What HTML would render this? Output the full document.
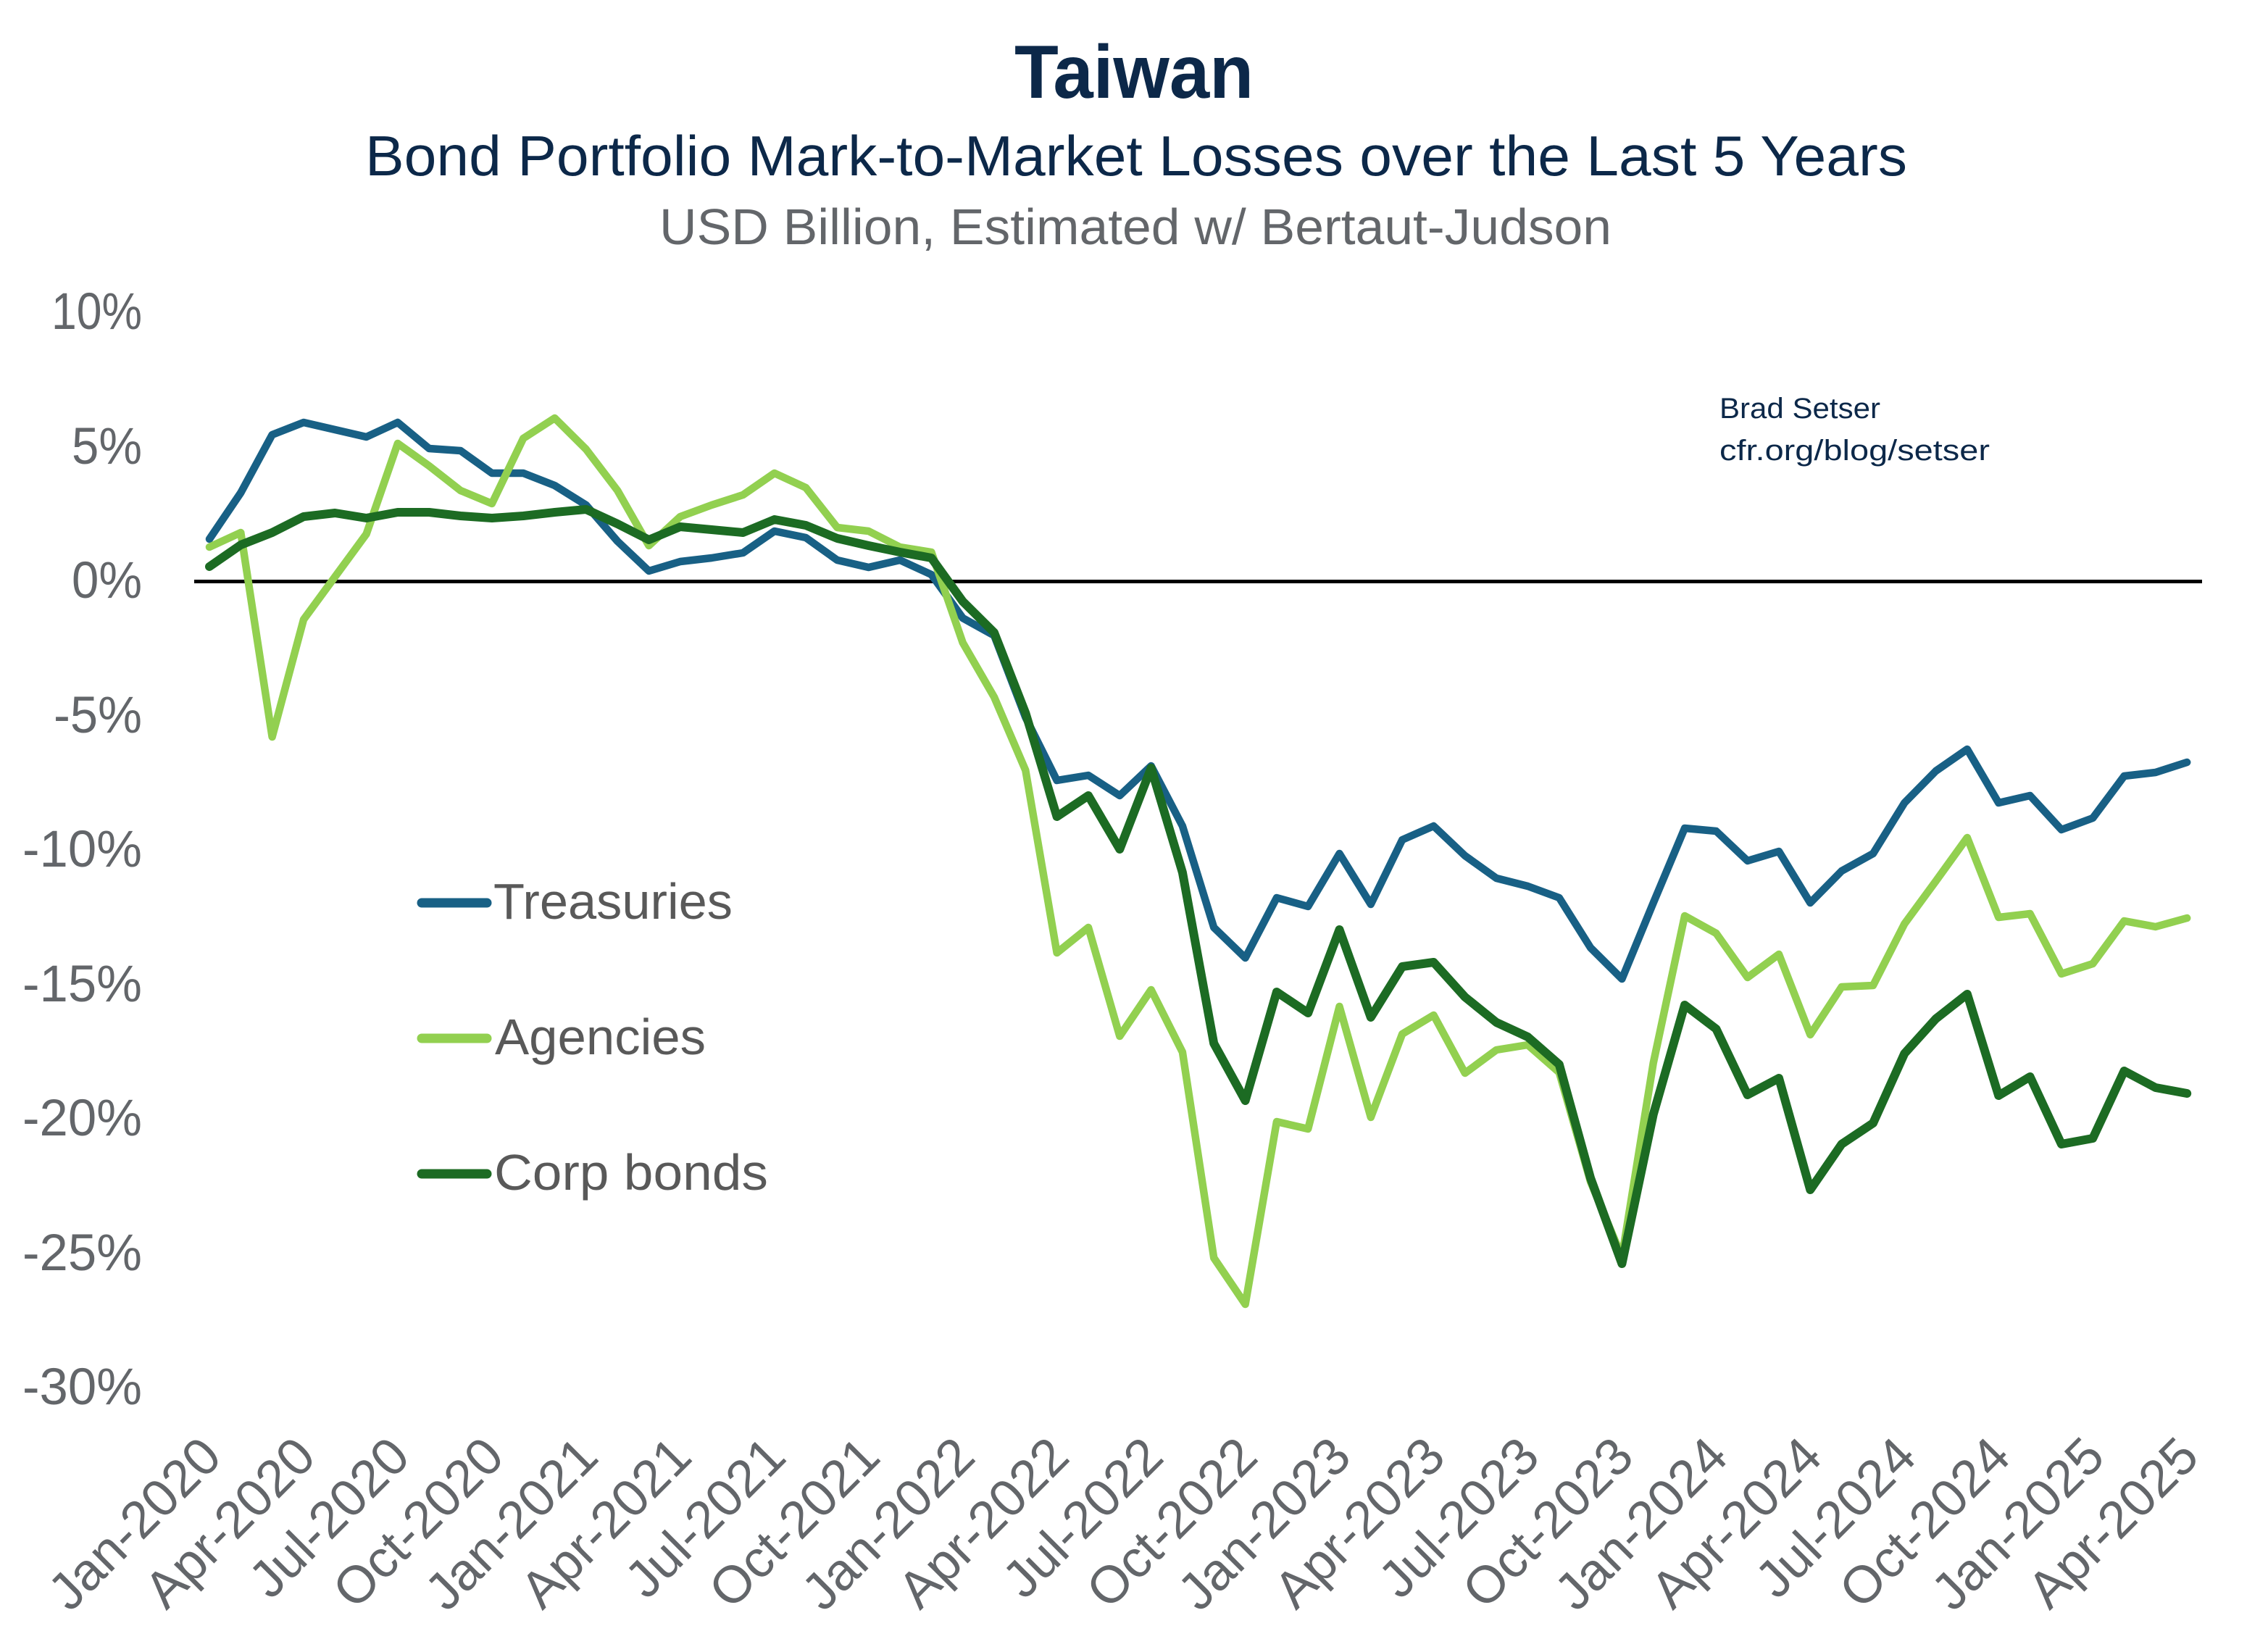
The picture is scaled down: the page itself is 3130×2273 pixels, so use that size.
<!DOCTYPE html>
<html>
<head>
<meta charset="utf-8">
<style>
  html,body{margin:0;padding:0;background:#ffffff;}
  svg{display:block;}
  text{font-family:"Liberation Sans",Arial,sans-serif;}
</style>
</head>
<body>
<svg width="3130" height="2273" viewBox="0 0 3130 2273" xmlns="http://www.w3.org/2000/svg">
  <rect x="0" y="0" width="3130" height="2273" fill="#ffffff"/>

  <!-- Titles -->
  <text x="1565" y="135" text-anchor="middle" font-size="104" font-weight="bold" fill="#0c2849" textLength="330" lengthAdjust="spacingAndGlyphs">Taiwan</text>
  <text x="1568" y="242" text-anchor="middle" font-size="78" fill="#0c2849" textLength="2128" lengthAdjust="spacingAndGlyphs">Bond Portfolio Mark-to-Market Losses over the Last 5 Years</text>
  <text x="1567" y="337" text-anchor="middle" font-size="70" fill="#63666a" textLength="1314" lengthAdjust="spacingAndGlyphs">USD Billion, Estimated w/ Bertaut-Judson</text>

  <!-- Y axis labels -->
  <g font-size="71" fill="#63666a" text-anchor="end">
    <text x="196" y="454" textLength="125" lengthAdjust="spacingAndGlyphs">10%</text>
    <text x="196" y="640" textLength="97" lengthAdjust="spacingAndGlyphs">5%</text>
    <text x="196" y="825" textLength="97" lengthAdjust="spacingAndGlyphs">0%</text>
    <text x="196" y="1011" textLength="122" lengthAdjust="spacingAndGlyphs">-5%</text>
    <text x="196" y="1196" textLength="165" lengthAdjust="spacingAndGlyphs">-10%</text>
    <text x="196" y="1382" textLength="165" lengthAdjust="spacingAndGlyphs">-15%</text>
    <text x="196" y="1567" textLength="165" lengthAdjust="spacingAndGlyphs">-20%</text>
    <text x="196" y="1753" textLength="165" lengthAdjust="spacingAndGlyphs">-25%</text>
    <text x="196" y="1938" textLength="165" lengthAdjust="spacingAndGlyphs">-30%</text>
  </g>

  <!-- Zero line -->
  <line x1="268" y1="802.5" x2="3039" y2="802.5" stroke="#000000" stroke-width="5"/>

  <!-- Treasuries -->
  <polyline fill="none" stroke="#186085" stroke-width="10.5" stroke-linejoin="round" stroke-linecap="round"
    points="289,744 332.3,680 375.6,600 419,583 462.3,593 505.6,603 548.9,583 592.2,619 635.6,622 678.9,653 722.2,653 765.5,670 808.8,697 852.2,747 895.5,788 938.8,775 982.1,770 1025.4,763 1068.8,733 1112.1,742 1155.4,773 1198.7,783 1242,773 1285.4,793 1328.7,853 1372,877 1415.3,990 1458.6,1077 1502,1070 1545.3,1098 1588.6,1057 1631.9,1140 1675.2,1280 1718.6,1322 1761.9,1239 1805.2,1251 1848.5,1178 1891.8,1248 1935.2,1159 1978.5,1140 2021.8,1181 2065.1,1212 2108.4,1223 2151.8,1239 2195.1,1308 2238.4,1351 2281.7,1246 2325,1143 2368.4,1147 2411.7,1188 2455,1175 2498.3,1246 2541.6,1202 2585,1178 2628.3,1108 2671.6,1064 2714.9,1034 2758.2,1108 2801.6,1098 2844.9,1145 2888.2,1129 2931.5,1071 2974.8,1066 3018.2,1052"/>

  <!-- Agencies -->
  <polyline fill="none" stroke="#92d050" stroke-width="10.5" stroke-linejoin="round" stroke-linecap="round"
    points="289,755 332.3,735 375.6,1017 419,855 462.3,796 505.6,737 548.9,612 592.2,643 635.6,677 678.9,695 722.2,605 765.5,577 808.8,620 852.2,677 895.5,753 938.8,713 982.1,697 1025.4,683 1068.8,653 1112.1,673 1155.4,728 1198.7,733 1242,755 1285.4,762 1328.7,887 1372,962 1415.3,1063 1458.6,1315 1502,1280 1545.3,1430 1588.6,1366 1631.9,1452 1675.2,1736 1718.6,1800 1761.9,1548 1805.2,1558 1848.5,1389 1891.8,1542 1935.2,1427 1978.5,1401 2021.8,1481 2065.1,1449 2108.4,1442 2151.8,1480 2195.1,1631 2238.4,1735 2281.7,1467 2325,1264 2368.4,1288 2411.7,1349 2455,1317 2498.3,1428 2541.6,1362 2585,1360 2628.3,1275 2671.6,1216 2714.9,1156 2758.2,1266 2801.6,1261 2844.9,1344 2888.2,1330 2931.5,1271 2974.8,1279 3018.2,1267"/>

  <!-- Corp bonds -->
  <polyline fill="none" stroke="#1c6b23" stroke-width="12" stroke-linejoin="round" stroke-linecap="round"
    points="289,782 332.3,752 375.6,735 419,713 462.3,708 505.6,715 548.9,707 592.2,707 635.6,712 678.9,715 722.2,712 765.5,707 808.8,703 852.2,723 895.5,745 938.8,727 982.1,731 1025.4,735 1068.8,717 1112.1,725 1155.4,743 1198.7,753 1242,762 1285.4,770 1328.7,830 1372,873 1415.3,984 1458.6,1127 1502,1098 1545.3,1172 1588.6,1060 1631.9,1204 1675.2,1440 1718.6,1519 1761.9,1369 1805.2,1398 1848.5,1283 1891.8,1404 1935.2,1334 1978.5,1328 2021.8,1376 2065.1,1411 2108.4,1431 2151.8,1469 2195.1,1626 2238.4,1744 2281.7,1538 2325,1387 2368.4,1420 2411.7,1511 2455,1488 2498.3,1642 2541.6,1579 2585,1550 2628.3,1454 2671.6,1406 2714.9,1372 2758.2,1512 2801.6,1486 2844.9,1579 2888.2,1571 2931.5,1478 2974.8,1501 3018.2,1509"/>

  <!-- Legend -->
  <line x1="582" y1="1246" x2="672" y2="1246" stroke="#186085" stroke-width="13" stroke-linecap="round"/>
  <text x="681" y="1268" font-size="70" fill="#595959" textLength="330" lengthAdjust="spacingAndGlyphs">Treasuries</text>
  <line x1="582" y1="1433" x2="672" y2="1433" stroke="#92d050" stroke-width="13" stroke-linecap="round"/>
  <text x="683" y="1455" font-size="70" fill="#595959" textLength="291" lengthAdjust="spacingAndGlyphs">Agencies</text>
  <line x1="582" y1="1620" x2="672" y2="1620" stroke="#1c6b23" stroke-width="13" stroke-linecap="round"/>
  <text x="682" y="1642" font-size="70" fill="#595959" textLength="378" lengthAdjust="spacingAndGlyphs">Corp bonds</text>

  <!-- Annotation -->
  <text x="2373" y="577" font-size="40" fill="#0c2849" textLength="222" lengthAdjust="spacingAndGlyphs">Brad Setser</text>
  <text x="2373" y="635" font-size="40" fill="#0c2849" textLength="373" lengthAdjust="spacingAndGlyphs">cfr.org/blog/setser</text>

  <!-- X axis labels -->
  <g font-size="72" fill="#63666a" text-anchor="end">
    <text transform="translate(309,2014) rotate(-45)">Jan-2020</text>
    <text transform="translate(439,2014) rotate(-45)">Apr-2020</text>
    <text transform="translate(569,2014) rotate(-45)">Jul-2020</text>
    <text transform="translate(699,2014) rotate(-45)">Oct-2020</text>
    <text transform="translate(829,2014) rotate(-45)">Jan-2021</text>
    <text transform="translate(958,2014) rotate(-45)">Apr-2021</text>
    <text transform="translate(1088,2014) rotate(-45)">Jul-2021</text>
    <text transform="translate(1218,2014) rotate(-45)">Oct-2021</text>
    <text transform="translate(1349,2014) rotate(-45)">Jan-2022</text>
    <text transform="translate(1479,2014) rotate(-45)">Apr-2022</text>
    <text transform="translate(1609,2014) rotate(-45)">Jul-2022</text>
    <text transform="translate(1739,2014) rotate(-45)">Oct-2022</text>
    <text transform="translate(1868,2014) rotate(-45)">Jan-2023</text>
    <text transform="translate(1998,2014) rotate(-45)">Apr-2023</text>
    <text transform="translate(2128,2014) rotate(-45)">Jul-2023</text>
    <text transform="translate(2258,2014) rotate(-45)">Oct-2023</text>
    <text transform="translate(2388,2014) rotate(-45)">Jan-2024</text>
    <text transform="translate(2518,2014) rotate(-45)">Apr-2024</text>
    <text transform="translate(2648,2014) rotate(-45)">Jul-2024</text>
    <text transform="translate(2778,2014) rotate(-45)">Oct-2024</text>
    <text transform="translate(2908,2014) rotate(-45)">Jan-2025</text>
    <text transform="translate(3038,2014) rotate(-45)">Apr-2025</text>
  </g>
</svg>
</body>
</html>
